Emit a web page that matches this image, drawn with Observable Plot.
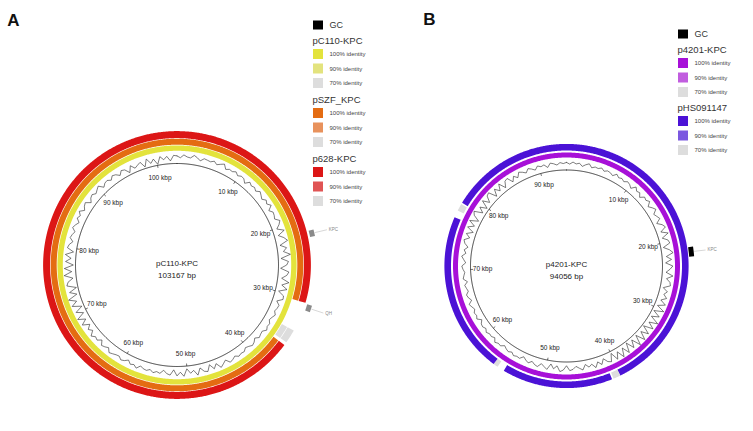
<!DOCTYPE html>
<html><head><meta charset="utf-8">
<script src="https://cdn.jsdelivr.net/npm/d3@7"></script>
<script src="https://cdn.jsdelivr.net/npm/@observablehq/plot@0.6"></script>
<style>body{margin:0;background:#fff;} svg{display:block}</style>
</head><body><div id="chart"></div>
<script>
// ---------------- DATA ----------------
const panelLetters = ["A", "B"];
const refNames = ["pC110-KPC", "p4201-KPC"];
const refLengthLabels = ["103167 bp", "94056 bp"];
const refLengthKbp = [103.167, 94.056];
const tickKbpA = [10, 20, 30, 40, 50, 60, 70, 80, 90, 100];
const tickKbpB = [10, 20, 30, 40, 50, 60, 70, 80, 90];
const identityLabels = ["100% identity", "90% identity", "70% identity"];
const legendTitlesA = ["pC110-KPC", "pSZF_KPC", "p628-KPC"];
const legendTitlesB = ["p4201-KPC", "pHS091147"];
const coloursA = [["#e3e33c", "#e3e37e", "#dddddd"], ["#e46c12", "#e8925c", "#dddddd"], ["#dc1616", "#e05454", "#dddddd"]];
const coloursB = [["#a710d8", "#c15ddf", "#dddddd"], ["#4b12d6", "#7b58e0", "#dddddd"]];
// ring segments: [start kbp, end kbp, identity index]; ends past the length wrap through the origin
const segA_pC110 = [[0, 103.167, 0]];
const segA_pSZF = [[36.3, 133.667, 0], [34.2, 35.9, 2]];
const segA_p628 = [[36.3, 133.667, 0], [34.2, 35.9, 2]];
const segB_p4201 = [[0, 94.056, 0]];
const segB_pHS = [[78.7, 134.256, 0], [40.2, 41.1, 2], [41.3, 55.1, 0], [56.0, 56.6, 2], [56.6, 76.7, 0], [77.6, 78.5, 2]];
// gene annotations: [label, kbp]
const genesA = [["KPC", 22.0], ["QH", 31.0]];
const genesB = [["KPC", 21.8]];
// GC content deviation (estimated, evenly spaced around the plasmid)
const gcA = [0.1,-0.2,0.3,0.0,-0.1,0.4,0.1,-0.3,0.2,0.1, 0.0,0.3,-0.1,0.2,0.5,-0.2,0.1,0.0,0.3,-0.1,
 0.2,0.1,-0.4,0.3,0.0,0.2,-0.1,0.4,0.1,-0.2, 0.3,0.0,0.5,-0.3,0.2,0.1,-0.1,0.6,0.2,-0.4,
 0.7,-0.5,0.3,0.8,-0.6,0.4,-0.2,0.9,-0.7,0.5, 0.2,-0.8,0.6,0.3,-0.5,0.8,-0.3,0.7,-0.6,0.4,
 0.5,-0.4,0.2,0.1,-0.1,0.3,0.0,-0.2,0.2,0.1, 0.4,-0.1,0.0,0.2,-0.3,0.1,0.3,0.0,-0.2,0.2,
 0.1,0.3,-0.1,0.2,0.4,-0.3,0.1,0.5,-0.4,0.3, -0.6,0.4,0.2,-0.5,0.6,-0.3,0.1,-0.7,0.5,-0.2,
 0.4,-0.6,0.3,0.1,-0.4,0.2,0.0,0.3,-0.1,0.2, 0.1,-0.2,0.4,0.0,0.2,-0.3,0.1,0.3,-0.1,0.0,
 0.2,0.4,-0.2,0.1,0.3,-0.4,0.2,0.0,0.5,-0.3, 0.2,-0.5,0.6,-0.4,0.8,-0.6,0.5,-0.8,0.7,-0.3,
 0.9,-0.7,0.4,-0.9,0.6,0.3,-0.6,0.8,-0.5,0.7, -0.8,0.5,-0.4,0.6,-0.7,0.4,0.2,-0.3,0.3,0.1,
 -0.2,0.4,0.1,-0.3,0.3,0.0,0.5,-0.2,0.2,0.4, -0.4,0.1,0.3,-0.1,0.2,0.5,-0.3,0.1,0.2,-0.2,
 0.3,0.1,-0.4,0.2,0.0,-0.8,0.2,-0.5,-0.2,0.1, -0.9,0.3,-0.6,0.0,-1.0,0.2,-0.4,0.1,-0.7,0.2];
const gcB = [0.2,-0.1,0.3,0.0,0.2,-0.3,0.1,0.4,-0.2,0.1, 0.0,0.3,-0.1,0.2,0.1,-0.2,0.4,0.0,0.2,-0.1,
 0.3,0.1,-0.3,0.5,0.0,0.2,-0.4,0.3,0.1,0.5, -0.3,0.2,0.6,-0.2,0.1,0.4,-0.5,0.3,0.7,-0.4,
 0.8,-0.5,0.4,0.6,-0.7,0.3,0.9,-0.4,0.5,-0.6, 0.7,0.2,-0.5,0.8,-0.3,0.4,0.6,-0.6,0.3,-0.2,
 0.5,-0.4,0.7,-0.6,0.9,-0.8,0.6,-0.7,1.0,-0.5, 0.8,-0.9,0.7,-0.6,0.9,-0.8,1.0,-0.7,0.6,-0.9,
 0.8,-0.6,0.9,-0.5,0.7,-0.8,0.6,0.3,-0.5,0.4, -0.3,0.6,-0.2,0.2,-0.4,0.5,0.1,-0.3,0.2,0.4,
 -0.5,0.3,0.6,-0.4,0.2,-0.6,0.5,0.1,-0.3,0.4, 0.2,-0.2,0.3,0.0,-0.4,0.2,0.1,0.3,-0.1,0.2,
 0.0,-0.3,0.2,0.1,0.4,-0.2,0.1,0.0,0.3,-0.1, 0.2,0.1,-0.4,0.3,0.0,0.2,-0.2,0.1,0.4,-0.3,
 0.1,0.3,-0.2,0.0,0.2,-0.4,0.3,0.1,-0.1,0.2, 0.4,-0.3,0.1,0.5,-0.2,0.2,-0.4,0.3,0.6,-0.3,
 0.5,-0.6,0.7,-0.4,0.8,-0.7,0.5,0.9,-0.6,0.4, -0.8,0.7,-0.5,0.6,0.8,-0.7,0.5,-0.4,0.7,-0.6,
 0.4,0.6,-0.5,0.3,-0.3,0.5,0.2,-0.2,0.4,0.1, -0.3,0.3,0.0,0.2,-0.4,0.3,0.1,-0.2,0.2,0.0];

// ---------------- LAYOUT ----------------
const W = 753, H = 431;
const FONT = "'Liberation Sans', Arial, Helvetica, sans-serif";
const panels = [
  {letter: panelLetters[0], name: refNames[0], bp: refLengthLabels[0], L: refLengthKbp[0], ticks: tickKbpA,
   cx: 176.5, cy: 264.5, circleR: 101.5, gcR: 108.5, gcAmp: 6, tickLabelR: 89,
   rings: [{seg: segA_pC110, col: coloursA[0], r: 116.9, w: 5.4}, {seg: segA_pSZF, col: coloursA[1], r: 123.3, w: 6}, {seg: segA_p628, col: coloursA[2], r: 130.4, w: 7}],
   gc: gcA, genes: genesA, geneR: 138.5, geneW: 5, geneSpan: 0.8, geneCol: "#8a8a8a", geneTextR: 156,
   letterX: 13, letterY: 20,
   legend: {x: 313, gcY: 25, titles: legendTitlesA, cols: coloursA, titleY0: 40, groupStep: 59}},
  {letter: panelLetters[1], name: refNames[1], bp: refLengthLabels[1], L: refLengthKbp[1], ticks: tickKbpB,
   cx: 566, cy: 265.5, circleR: 96, gcR: 102.5, gcAmp: 5.5, tickLabelR: 84,
   rings: [{seg: segB_p4201, col: coloursB[0], r: 111, w: 5}, {seg: segB_pHS, col: coloursB[1], r: 118.8, w: 6.6}],
   gc: gcB, genes: genesB, geneR: 125.5, geneW: 5, geneSpan: 1.15, geneCol: "#000", geneTextR: 142,
   letterX: 429, letterY: 19,
   legend: {x: 678, gcY: 34, titles: legendTitlesB, cols: coloursB, titleY0: 49, groupStep: 58}}
];

function pt(p, kbp, r) {
  const a = kbp / p.L * 2 * Math.PI;
  return {x: p.cx + r * Math.sin(a), y: p.cy - r * Math.cos(a)};
}
function arc(p, k0, k1, r) {
  const n = Math.max(2, Math.ceil((k1 - k0) / p.L * 900) + 1);
  return d3.range(n).map(i => pt(p, k0 + (k1 - k0) * i / (n - 1), r));
}

const marks = [];
for (const p of panels) {
  marks.push(Plot.text([p.letter], {x: () => p.letterX, y: () => p.letterY, text: d => d, fontSize: 17, fontWeight: "bold", fill: "#111"}));
  // rings
  for (const ring of p.rings) {
    for (const [k0, k1, idx] of ring.seg) {
      marks.push(Plot.line(arc(p, k0, k1, ring.r), {x: "x", y: "y", stroke: ring.col[idx], strokeWidth: ring.w, strokeLinecap: "butt"}));
    }
  }
  // backbone circle
  marks.push(Plot.line(arc(p, 0, p.L, p.circleR), {x: "x", y: "y", stroke: "#111", strokeWidth: 0.8}));
  // ticks
  marks.push(Plot.link(p.ticks, {
    x1: k => pt(p, k, p.circleR).x, y1: k => pt(p, k, p.circleR).y,
    x2: k => pt(p, k, p.circleR - 2.5).x, y2: k => pt(p, k, p.circleR - 2.5).y,
    stroke: "#111", strokeWidth: 0.6}));
  marks.push(Plot.text(p.ticks, {x: k => pt(p, k, p.tickLabelR).x, y: k => pt(p, k, p.tickLabelR).y,
    text: k => `${k} kbp`, fontSize: 6.5, fill: "#222"}));
  // GC content
  const n = p.gc.length;
  const gcPts = p.gc.map((v, i) => pt(p, p.L * i / n, p.gcR + v * p.gcAmp));
  gcPts.push(gcPts[0]);
  marks.push(Plot.line(gcPts, {x: "x", y: "y", stroke: "#111", strokeWidth: 0.55}));
  // centre labels
  marks.push(Plot.text([p.name, p.bp], {x: () => p.cx, y: (d, i) => p.cy - 2 + i * 12, text: d => d, fontSize: 8, fill: "#222"}));
  // genes
  for (const [label, k] of p.genes) {
    marks.push(Plot.line(arc(p, k - p.geneSpan / 2, k + p.geneSpan / 2, p.geneR), {x: "x", y: "y", stroke: p.geneCol, strokeWidth: p.geneW, strokeLinecap: "butt"}));
  }
  marks.push(Plot.link(p.genes, {
    x1: d => pt(p, d[1], p.geneR + 3).x, y1: d => pt(p, d[1], p.geneR + 3).y,
    x2: d => pt(p, d[1], p.geneTextR - 2).x, y2: d => pt(p, d[1], p.geneTextR - 2).y,
    stroke: "#999", strokeWidth: 0.4}));
  marks.push(Plot.text(p.genes, {x: d => pt(p, d[1], p.geneTextR).x, y: d => pt(p, d[1], p.geneTextR).y,
    text: d => d[0], fontSize: 4.5, fill: "#888", textAnchor: "start"}));
  // legend
  const lg = p.legend;
  marks.push(Plot.rect([0], {x1: () => lg.x, x2: () => lg.x + 10, y1: () => lg.gcY - 4.5, y2: () => lg.gcY + 4.5, fill: "#000"}));
  marks.push(Plot.text(["GC"], {x: () => lg.x + 16, y: () => lg.gcY, text: d => d, fontSize: 9, fill: "#333", textAnchor: "start"}));
  marks.push(Plot.text(lg.titles, {x: () => lg.x - 1, y: (d, i) => lg.titleY0 + i * lg.groupStep, text: d => d, fontSize: 9.5, fill: "#333", textAnchor: "start"}));
  const sw = [];
  lg.titles.forEach((t, g) => identityLabels.forEach((lab, j) => sw.push({g, j, lab, col: lg.cols[g][j]})));
  const swY = d => lg.titleY0 + d.g * lg.groupStep + [14, 28.5, 43][d.j];
  marks.push(Plot.rect(sw, {x1: () => lg.x, x2: () => lg.x + 10, y1: d => swY(d) - 5, y2: d => swY(d) + 5, fill: "col"}));
  marks.push(Plot.text(sw, {x: () => lg.x + 16, y: swY, text: "lab", fontSize: 6, fill: "#444", textAnchor: "start"}));
}

const chart = Plot.plot({
  width: W, height: H, margin: 0,
  x: {domain: [0, W], range: [0, W], axis: null},
  y: {domain: [0, H], range: [0, H], axis: null},
  color: {type: "identity"},
  style: {fontFamily: FONT, background: "#fff"},
  marks
});
document.getElementById("chart").append(chart);
</script>
</body></html>
